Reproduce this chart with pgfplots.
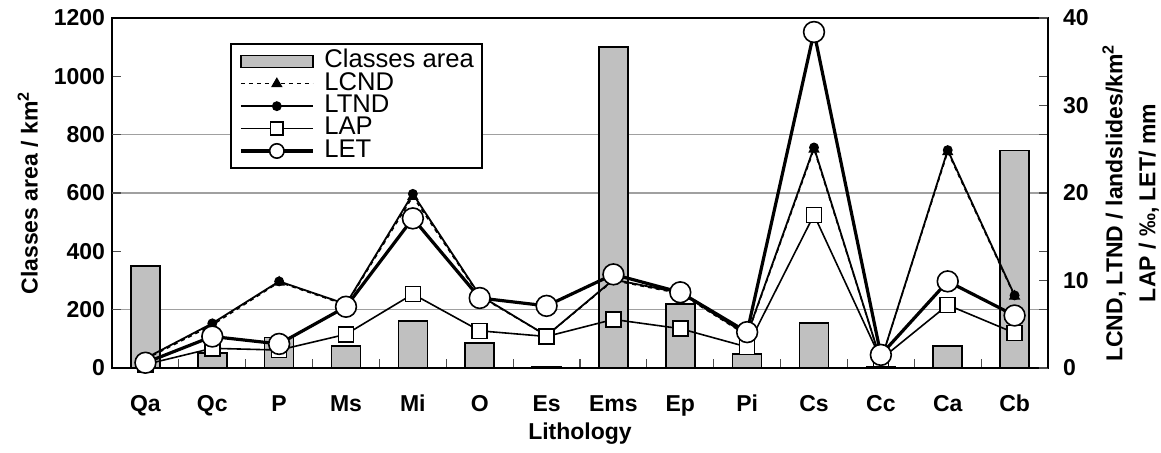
\documentclass[border=0pt]{standalone}
\usepackage{pgfplots}
\pgfplotsset{compat=1.18}
\usepackage{pgfplotstable}
\usepackage{fontspec}
\setmainfont{Liberation Sans}
\definecolor{barfill}{HTML}{C0C0C0}
\definecolor{gridc}{HTML}{A0A0A0}
\pgfplotsset{
  legline/.style={legend image code/.code={\draw[mark repeat=2,mark phase=2,##1] plot coordinates {(0pt,0pt) (18pt,0pt) (36pt,0pt)};}},
  leglap/.style={legend image code/.code={\draw[mark repeat=2,mark phase=2,##1,mark size=3.2pt] plot coordinates {(0pt,0pt) (18pt,0pt) (36pt,0pt)};}},
  leglet/.style={legend image code/.code={\draw[mark repeat=2,mark phase=2,##1,mark size=3.6pt] plot coordinates {(0pt,0pt) (18pt,0pt) (36pt,0pt)};}},
}
\newcommand{\tickfont}{\bfseries\fontsize{11.5}{13}\selectfont}
\pgfplotstableread{
x area LCND LTND LAP LET
0 350 1.0 1.1 0.4 0.6
1 52 4.9 5.1 2.25 3.6
2 105 9.8 9.9 2.05 2.75
3 76 7.2 7.3 3.85 7.0
4 162 19.6 19.9 8.45 17.1
5 85 8.2 8.3 4.25 8.0
6 3 3.7 3.7 3.6 7.1
7 1100 10.0 10.1 5.55 10.7
8 219 8.5 8.6 4.5 8.65
9 48 3.7 3.8 2.4 4.1
10 155 25.0 25.2 17.5 38.4
11 3 0.8 0.8 1.0 1.5
12 76 24.7 24.9 7.2 9.9
13 745 8.2 8.3 4.0 6.0
}\data
\begin{document}
\begin{tikzpicture}
\path[use as bounding box] (-56pt,-42.5pt) rectangle (524.5pt,184pt);
\begin{axis}[
  scale only axis, width=468pt, height=175pt,
  xmin=-0.5, xmax=13.5, ymin=0, ymax=1200,
  axis line style={line width=1.4pt},
  tick align=inside,
  major tick length=4.5pt,
  tick style={black!70, line width=0.6pt},
  xtick={0.5,1.5,...,12.5}, xticklabels={},
  xtick pos=bottom,
  extra x ticks={0,1,...,13},
  extra x tick labels={Qa,Qc,P,Ms,Mi,O,Es,Ems,Ep,Pi,Cs,Cc,Ca,Cb},
  extra x tick style={major tick length=0pt, tick label style={yshift=-9.5pt, text height=8.5pt, text depth=2.5pt, anchor=north}},
  ytick={0,200,...,1200},
  ytick pos=both,
  extra y ticks={200,600,800},
  extra y tick labels={},
  extra y tick style={grid=major, major grid style={gridc, line width=0.6pt}},
  /pgf/number format/assume math mode=true,
  /pgf/number format/1000 sep={},
  tick label style={font=\tickfont},
  xlabel={Lithology},
  xlabel style={font=\tickfont, yshift=3.5pt},
  ylabel={Classes area / km\textsuperscript{2}},
  ylabel style={font=\tickfont, yshift=1pt},
]
\addplot[ybar, bar width=14.5pt, fill=barfill, draw=black, line width=0.8pt] table[x=x,y=area]{\data};
\end{axis}
\begin{axis}[
  scale only axis, width=468pt, height=175pt,
  xmin=-0.5, xmax=13.5, ymin=0, ymax=40,
  axis x line=none, axis y line*=right,
  axis line style={line width=1.4pt},
  tick align=inside,
  major tick length=4.5pt,
  tick style={black!70, line width=0.6pt},
  ytick={0,10,...,40},
  ytick pos=right,
  /pgf/number format/assume math mode=true,
  tick label style={font=\tickfont},
  yticklabel style={xshift=4pt},
  ylabel={LCND, LTND / landslides/km\textsuperscript{2}\\LAP / ‰, LET/ mm},
  ylabel style={font=\bfseries\fontsize{11.5}{16.5}\selectfont, align=center, xshift=-5pt},
  clip=false,
  legend style={at={(0.1261,0.9286)}, anchor=north west, draw=black, line width=1.2pt, fill=white,
    font=\fontsize{12.8}{13}\selectfont, inner xsep=4pt, inner ysep=3pt, row sep=0pt, column sep=5pt,
    nodes={inner sep=0pt, text height=8.8pt, text depth=2.4pt, anchor=west}},
  legend cell align=left,
]
\addlegendimage{legend image code/.code={\draw[fill=barfill,draw=black,line width=0.7pt] (0pt,-3pt) rectangle (36pt,3pt);}}
\addlegendentry{Classes area}
\addplot[black, dash pattern=on 2pt off 2pt, line width=0.7pt, mark=triangle*, mark size=2.6pt, mark options={solid}, legline] table[x=x,y=LCND]{\data};
\addlegendentry{LCND}
\addplot[black, line width=0.9pt, mark=*, mark size=2pt, legline] table[x=x,y=LTND]{\data};
\addlegendentry{LTND}
\addplot[black, line width=0.8pt, mark=square*, mark size=3.75pt, mark options={fill=white, line width=0.8pt}, leglap] table[x=x,y=LAP]{\data};
\addlegendentry{LAP}
\addplot[black, line width=1.6pt, mark=*, mark size=5.2pt, mark options={fill=white, line width=0.8pt}, leglet] table[x=x,y=LET]{\data};
\addlegendentry{LET}
\end{axis}
\end{tikzpicture}
\end{document}
